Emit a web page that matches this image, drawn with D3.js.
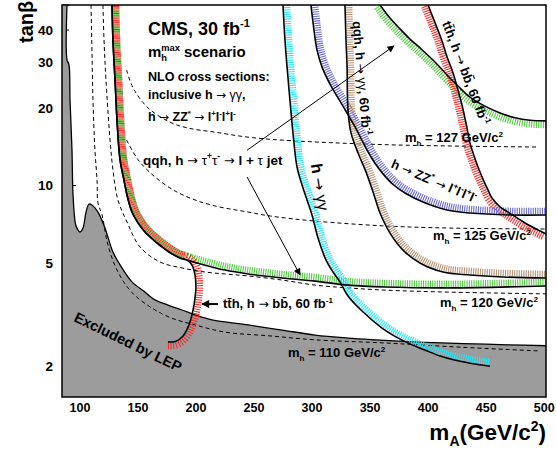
<!DOCTYPE html>
<html><head><meta charset="utf-8">
<script src="https://cdn.jsdelivr.net/npm/d3@7"></script>
<style>
html,body{margin:0;padding:0;background:#fff;}
svg{display:block;}
text{font-family:"Liberation Sans",Arial,Helvetica,sans-serif;font-weight:bold;fill:#000;}
</style></head><body>
<svg id="c" width="556" height="450"></svg>
<script>
// ---------------- data (mA in GeV/c^2, tan(beta)) ----------------
const xTickValues = [100,150,200,250,300,350,400,450,500];
const yTickValues = [2,5,10,20,30,40];

// LEP excluded region boundary
const lepMA = [89.3,89.3,91.0,91.9,93.6,94.5,96.8,98.8,100.5,103.1,105.7,108.3,110.8,116.0,122.0,128.9,136.7,145.3,156.5,165.1,176.3,188.4,199.6,214.2,245.3,274.5,303.0,331.4,354.7,383.1,412.4,440.8,469.3,502];
const lepTB = [50,30.6,29.3,21.4,13.7,9.2,7.04,6.73,6.61,6.85,7.90,8.49,8.41,7.90,6.85,5.53,4.80,4.24,3.87,3.61,3.45,3.30,3.16,3.02,2.89,2.76,2.64,2.57,2.53,2.49,2.46,2.44,2.42,2.40];

// m_h iso-lines (dashed)
const mh110MA = [110.0,110.8,111.7,113.4,115.2,116.0,119.5,124.6,133.2,145.0,162.3,179.5,199.6,225.4,264.2,303.0,363.3,427.9,496.8];
const mh110TB = [50,33.5,21.4,13.7,10.5,8.56,7.70,5.89,4.63,3.87,3.36,3.07,2.89,2.71,2.62,2.53,2.46,2.37,2.29];
const mh120MA = [120.3,121.2,122.9,126.4,128.9,133.2,141.0,152.2,169.4,188.4,208.2,225.4,245.3,274.5,303.0,331.4,363.3,419.3,502];
const mh120TB = [50,36.6,25.6,15.0,11.5,8.80,7.23,5.79,5.06,4.80,4.63,4.55,4.47,4.31,4.12,4.02,3.94,3.87,3.81];
const mh125MA = [140.7,150.5,165.1,182.4,199.6,216.8,245.3,264.2,303.0,363.3,419.3,502];
const mh125TB = [15.0,12.6,10.8,9.53,8.80,8.34,7.90,7.63,7.29,6.98,6.85,6.79];
const mh127MA = [140.7,146.2,159.1,178.1,193.6,216.8,245.3,274.5,363.3,495.1];
const mh127TB = [28.0,23.9,20.0,17.6,16.7,16.1,15.4,15.0,14.4,14.1];

// discovery contours
const tauMA = [128.1,128.9,130.7,132.4,135.0,138.4,141.0,145.3,150.5,156.5,166.8,171.2,179.8,186.7,192.7,201.3,225.4,245.3,274.5,303.0,331.4,363.3,419.3,502];
const tauTB = [50,36.6,25.6,17.9,12.6,10.5,9.20,7.90,7.17,6.61,6.00,5.79,5.44,5.25,5.15,5.02,4.71,4.55,4.39,4.27,4.12,4.05,4.02,4.09];
const tauUpMA = [359.0,367.6,376.2,384.8,393.4,406.3,416.7,426.2,436.5,449.4,462.4,475.3,488.2,502];
const tauUpTB = [50,44.5,40.4,36.9,34.1,30.1,26.8,24.3,22.0,20.3,19.1,18.3,17.9,17.8];
const tthLowMA = [128.1,128.9,130.7,132.4,135.0,138.4,141.0,145.3,150.5,156.5,166.8,171.2,179.8,186.7,192.7,197.0,199.6,200.4,199.6,197.9,194.4,189.3,183.2,176.3];
const tthLowTB = [50,36.6,25.6,17.9,12.6,10.5,9.20,7.90,7.17,6.61,6.00,5.79,5.44,5.25,5.15,4.93,4.51,4.05,3.67,3.30,2.89,2.62,2.50,2.48];
const tthUpMA = [400.3,405.5,412.1,416.7,421.9,426.2,429.6,433.7,436.5,439.1,443.4,446.9,452.0,455.5,462.4,469.3,483.9,502];
const tthUpTB = [50,43.7,36.6,31.5,27.3,23.4,20.5,16.9,14.6,13.4,11.8,10.8,9.62,8.95,8.27,7.90,7.17,6.50];
const ggMA = [275.4,277.1,278.9,281.4,284.0,287.5,291.8,296.1,300.4,305.6,312.5,318.5,324.5,331.4,343.5,360.7,371.9,384.8,397.7,410.7,426.2,440.8,453.7];
const ggTB = [50,36.6,28.8,21.4,16.0,11.8,10.06,8.80,7.70,6.27,5.15,4.63,4.24,3.74,3.27,2.81,2.61,2.44,2.31,2.19,2.10,2.04,2.00];
const zzMA = [299.5,302.1,304.7,309.0,315.9,325.4,337.4,346.0,354.7,361.6,370.2,380.5,396.0,416.7,436.5,471.0,502];
const zzTB = [50,40.0,33.5,28.8,24.7,20.9,16.9,14.2,12.2,11.1,10.1,9.36,8.64,8.05,7.83,7.70,7.70];
const qqggMA = [328.8,329.7,330.6,331.4,334.0,340.0,346.9,353.0,359.0,367.6,378.8,393.4,413.3,436.5,465.0,502];
const qqggTB = [50,36.6,28.8,19.6,16.0,13.4,11.3,9.45,7.83,6.55,5.63,5.02,4.63,4.51,4.43,4.39];

// annotation arrows [mA0, tb0, mA1, tb1]
const arrowTauUp = [244.4,13.7,371.0,34.7];
const arrowTauLow = [244.4,10.8,290.1,4.51];
const arrowTth = [219.4,3.48,205.6,3.48];

// ---------------- chart ----------------
const M = {l:62, r:546, t:5, b:397};
const x = d3.scaleLinear().domain([85,502]).range([M.l,M.r]);
const y = d3.scaleLog().domain([1.52,50]).range([M.b,M.t]);
const svg = d3.select("#c");
const defs = svg.append("defs");
defs.append("clipPath").attr("id","clip").append("rect")
  .attr("x",M.l).attr("y",M.t).attr("width",M.r-M.l).attr("height",M.b-M.t);
defs.append("marker").attr("id","ah").attr("viewBox","0 0 10 10").attr("refX",9).attr("refY",5)
  .attr("markerWidth",9).attr("markerHeight",7).attr("markerUnits","userSpaceOnUse").attr("orient","auto")
  .append("path").attr("d","M0,0L10,5L0,10z").attr("fill","#000");
defs.append("marker").attr("id","ah2").attr("viewBox","0 0 10 10").attr("refX",9).attr("refY",5)
  .attr("markerWidth",9).attr("markerHeight",8).attr("markerUnits","userSpaceOnUse").attr("orient","auto")
  .append("path").attr("d","M0,0L10,5L0,10z").attr("fill","#000");

const zip = (a,b) => a.map((v,i)=>[v,b[i]]);
const line = d3.line().x(d=>x(d[0])).y(d=>y(d[1])).curve(d3.curveCatmullRom.alpha(0.5));

// ticks (under the LEP fill, as in the original)
const gt = svg.append("g").attr("stroke","#000").attr("stroke-width",1);
const yMinor = [2,3,4,5,6,7,8,9,20,30,40,50];
gt.selectAll(".ym").data(yMinor).join("line").attr("x1",M.l).attr("x2",M.l+7).attr("y1",d=>y(d)).attr("y2",d=>y(d));
gt.selectAll(".yM").data([10]).join("line").attr("x1",M.l).attr("x2",M.l+14).attr("y1",d=>y(d)).attr("y2",d=>y(d));
gt.selectAll(".xM").data(xTickValues).join("line").attr("x1",d=>x(d)).attr("x2",d=>x(d)).attr("y1",M.b).attr("y2",M.b-12);

// tick labels
const ya = svg.append("g").attr("transform",`translate(${M.l},0)`)
  .call(d3.axisLeft(y).tickValues(yTickValues).tickSize(0).tickPadding(9).tickFormat(d3.format("d")));
ya.select(".domain").remove();
ya.selectAll("text").style("font-size","13.5px").style("font-family",'"Liberation Sans",Arial,sans-serif').style("font-weight","bold");
const xa = svg.append("g").attr("transform",`translate(0,${M.b})`)
  .call(d3.axisBottom(x).tickValues(xTickValues).tickSize(0).tickPadding(6).tickFormat(d3.format("d")));
xa.select(".domain").remove();
xa.selectAll("text").style("font-size","12.5px").style("font-family",'"Liberation Sans",Arial,sans-serif').style("font-weight","bold");

const plot = svg.append("g").attr("clip-path","url(#clip)");

// LEP excluded
const lepPath = line(zip(lepMA,lepTB)) + `L${M.r+3},${M.b+3}L${M.l-3},${M.b+3}L${M.l-3},${M.t-3}Z`;
plot.append("path").attr("d",lepPath).attr("fill","#9c9c9c").attr("stroke","none");
plot.append("path").attr("d",line(zip(lepMA,lepTB))).attr("fill","none").attr("stroke","#000").attr("stroke-width",1.3);

// dashed m_h lines
[[mh110MA,mh110TB],[mh120MA,mh120TB],[mh125MA,mh125TB],[mh127MA,mh127TB]].forEach(([a,b])=>{
  plot.append("path").attr("d",line(zip(a,b))).attr("fill","none").attr("stroke","#000")
    .attr("stroke-width",1).attr("stroke-dasharray","4,3");
});

// hatched contours
function hatch(a,b,color,side,phase){
  const tmp = plot.append("path").attr("d",line(zip(a,b))).attr("fill","none").attr("stroke","none");
  const node = tmp.node(), L = node.getTotalLength();
  const segs = [], off = 0.8, len = 6.5;
  for(let s=phase; s<L; s+=2.3){
    const p = node.getPointAtLength(s);
    const p0 = node.getPointAtLength(Math.max(0,s-1)), p1 = node.getPointAtLength(Math.min(L,s+1));
    let tx = p1.x-p0.x, ty = p1.y-p0.y; const n = Math.hypot(tx,ty)||1; tx/=n; ty/=n;
    const nx = side*(-ty), ny = side*tx;
    segs.push([p.x+nx*off,p.y+ny*off,p.x+nx*(off+len),p.y+ny*(off+len)]);
  }
  tmp.remove();
  plot.append("g").selectAll("line").data(segs).join("line")
    .attr("x1",d=>d[0]).attr("y1",d=>d[1]).attr("x2",d=>d[2]).attr("y2",d=>d[3])
    .attr("stroke",color).attr("stroke-width",1.1);
}
const curves = [
  [tauMA,tauTB,"#55cc44",-1,0.5],
  [tthLowMA,tthLowTB,"#ff2a2a",-1,1.65],
  [tauUpMA,tauUpTB,"#55cc44",1,0.5],
  [tthUpMA,tthUpTB,"#ff2a2a",1,0.5],
  [ggMA,ggTB,"#22e6f6",-1,0.5],
  [zzMA,zzTB,"#6b6bdc",-1,0.5],
  [qqggMA,qqggTB,"#b8967a",-1,0.5]
];
curves.forEach(c=>hatch(c[0],c[1],c[2],c[3],c[4]));
curves.forEach(c=>{
  plot.append("path").attr("d",line(zip(c[0],c[1]))).attr("fill","none").attr("stroke","#000").attr("stroke-width",1.6);
});

// arrows
function arrow(a,w,mk){
  svg.append("line").attr("x1",x(a[0])).attr("y1",y(a[1])).attr("x2",x(a[2])).attr("y2",y(a[3]))
    .attr("stroke","#000").attr("stroke-width",w).attr("marker-end",`url(#${mk})`);
}
arrow(arrowTauUp,1,"ah");
arrow(arrowTauLow,1,"ah");
arrow(arrowTth,2,"ah2");

// rich text helper
function rich(parent, segs, size){
  const t = parent.append("text").style("font-size",size+"px");
  let cur = 0;
  segs.forEach(s=>{
    const [str,kind,dx] = Array.isArray(s)? s : [s,"",0];
    let shift = 0, fs = size;
    if(kind.includes("sup")){ shift = -0.42*size; fs = 0.62*size; }
    if(kind.includes("sub")){ shift = 0.28*size; fs = 0.62*size; }
    const ts = t.append("tspan").text(str).style("font-size",fs+"px").attr("dy",shift-cur);
    if(dx) ts.attr("dx",dx);
    if(kind.includes("n")) ts.style("font-weight","normal");
    if(kind.includes("a")) ts.style("font-weight","normal").style("font-family","'DejaVu Sans',sans-serif").style("font-size",(fs*0.95)+"px");
    cur = shift;
  });
  return t;
}
const AR = "\u2192";
function place(segs,size,px,py,rot,anchor,center){
  const g = svg.append("g").attr("transform",`translate(${px},${py}) rotate(${rot||0})`);
  const t = rich(g,segs,size);
  if(anchor) t.attr("text-anchor",anchor);
  if(center) t.attr("y",size*0.35);
  return t;
}

// info block
place(["CMS, 30 fb",["-1","sup"]],18,148,35);
place(["m",["h","sub"],["max","sup",-5.8],[" scenario",""]],15,148,57);
place(["NLO cross sections:"],12.5,148,81);
place(["inclusive h ",[AR,"a"],[" \u03B3\u03B3","n"],","],12.5,148,99);
place(["h ",[AR,"a"]," ZZ",["*","sup"]," ",[AR,"a"]," l",["+","sup"],"l",["-","sup"],"l",["+","sup"],"l",["-","sup"]],12.5,148,121);
place(["qqh, h ",[AR,"a"],[" \u03C4","n"],["+","sup"],["\u03C4","n"],["-","sup"]," ",[AR,"a"]," l + ",["\u03C4","n"]," jet"],13.5,143,165);

// contour labels
place(["h ",[AR,"a"],[" \u03B3\u03B3","n"]],16,320,187,81,"middle",true);
place(["h ",[AR,"a"]," ZZ",["*","sup"]," ",[AR,"a"]," l",["+","sup"],"l",["-","sup"],"l",["+","sup"],"l",["-","sup"]],13,434,181,23,"middle",true);
place(["qqh, h ",[AR,"a"],[" \u03B3\u03B3","n"],", 60 fb",["-1","sup"]],13,362,78,85,"middle",true);
place(["tt\u0304h, h ",[AR,"a"]," bb\u0304, 60 fb",["-1","sup"]],13,466,73,69,"middle",true);
place(["tt\u0304h, h ",[AR,"a"]," bb\u0304, 60 fb",["-1","sup"]],13,223,308);
place(["Excluded by LEP"],14.5,128,342,26,"middle",true);

// m_h labels
place(["m",["h","sub"]," = 127 GeV/c",["2","sup"]],13,405,142);
place(["m",["h","sub"]," = 125 GeV/c",["2","sup"]],13,433,240);
place(["m",["h","sub"]," = 120 GeV/c",["2","sup"]],13,440,307);
place(["m",["h","sub"]," = 110 GeV/c",["2","sup"]],13,288,357);

// axis titles
place(["tan\u03B2"],20,33,43,-90);
place(["m",["A","sub"],"(GeV/c",["2","sup"],")"],22.5,546,440,0,"end");

// frame
svg.append("rect").attr("x",M.l).attr("y",M.t).attr("width",M.r-M.l).attr("height",M.b-M.t)
  .attr("fill","none").attr("stroke","#000").attr("stroke-width",1.5);
</script>
</body></html>
